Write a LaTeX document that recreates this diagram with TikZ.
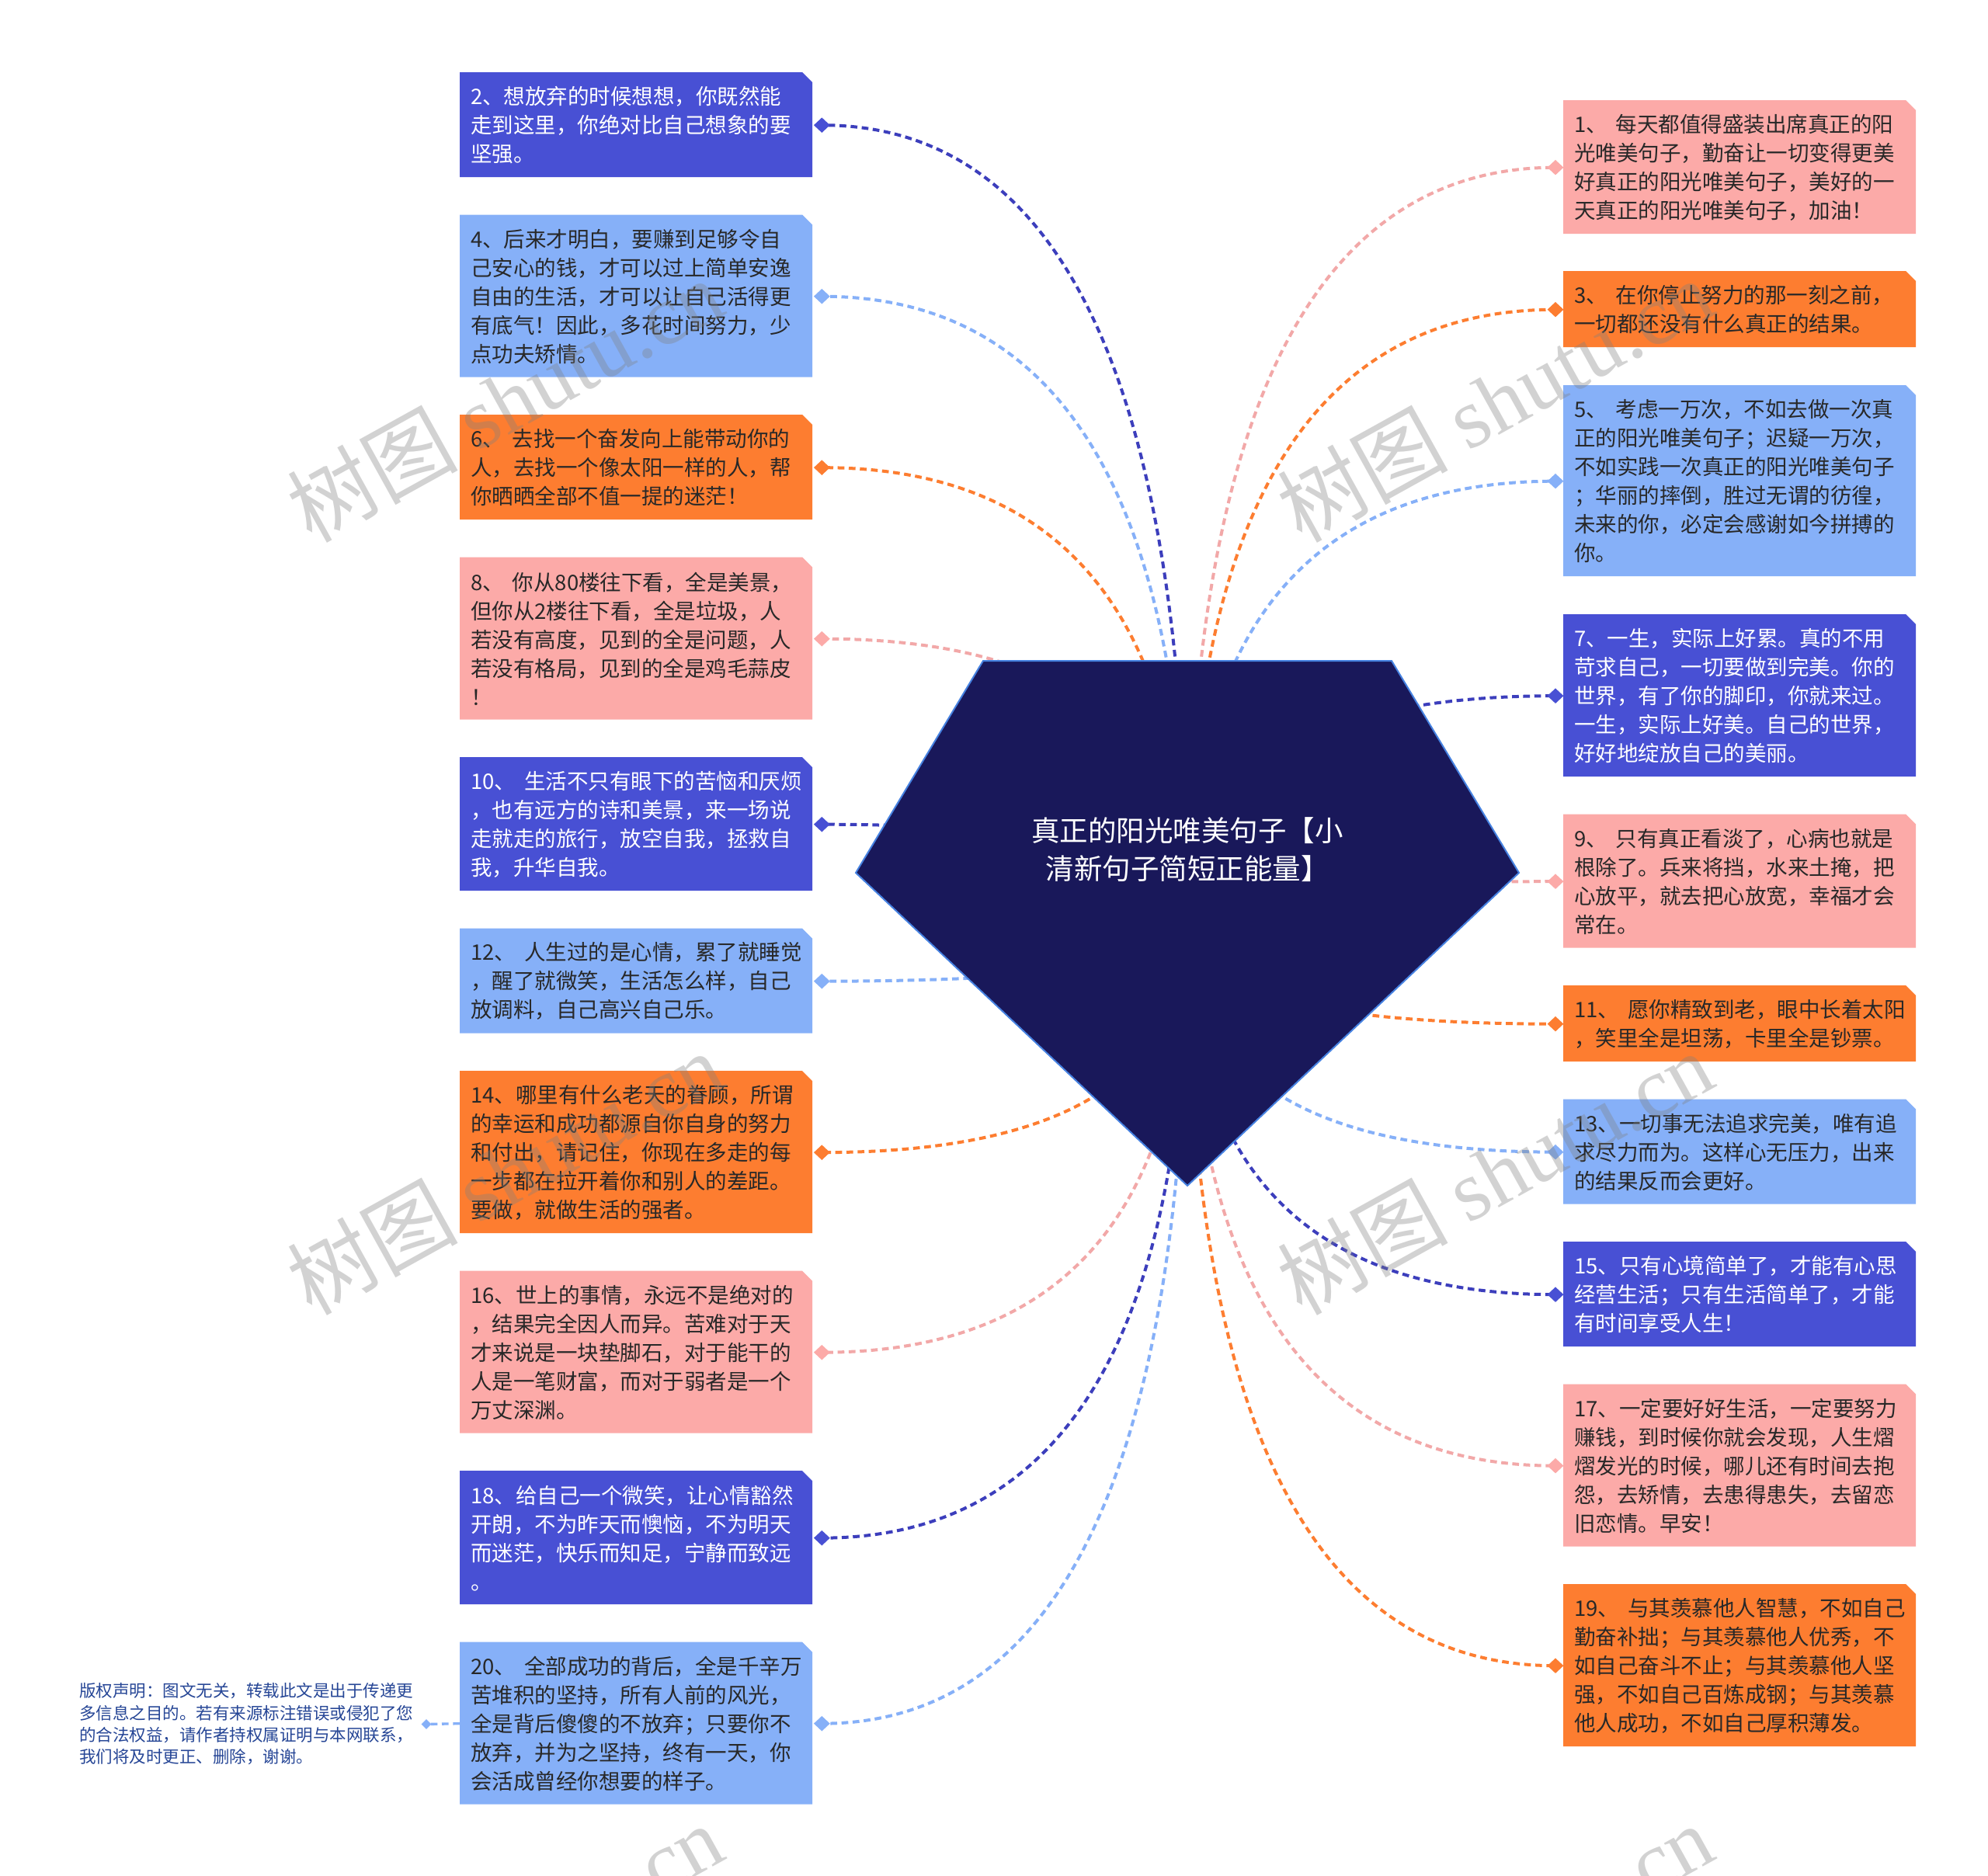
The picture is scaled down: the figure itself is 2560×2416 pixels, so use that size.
\documentclass[tikz,border=0pt]{standalone}
\usepackage{fontspec}
\setmainfont{Noto Sans CJK SC}
\newfontfamily\cjk{Noto Sans CJK SC}
\newfontfamily\wmserif{Liberation Serif}
\usetikzlibrary{shapes.geometric,calc}
\definecolor{cDk}{RGB}{72,80,212}
\definecolor{cDkL}{RGB}{60,62,188}
\definecolor{cLb}{RGB}{134,176,248}
\definecolor{cOr}{RGB}{253,125,48}
\definecolor{cPk}{RGB}{252,170,168}
\definecolor{cPkL}{RGB}{242,168,168}
\definecolor{cNavy}{RGB}{25,24,90}
\definecolor{cEdge}{RGB}{70,130,225}
\definecolor{cTx}{RGB}{40,40,40}
\definecolor{cCopy}{RGB}{38,70,150}
\newcommand\qsp{\hspace*{0.4em}}
\newcommand\qbox[7]{%
  \fill[#5] (#2,#3) -- ++(441,0) -- ++(13,13) -- ++(0,{#4-13}) -- ++(-454,0) -- cycle;
  \node[boxtext, text=#6, minimum height={#4*0.3pt}, anchor=north west] (#1) at (#2,#3) {#7};
}
\newcommand\lconn[3]{%
  \coordinate (#1e) at ([xshift=3.3pt]#1.east);
  \coordinate (#1q) at (hub |- #1e);
  \draw[conn,draw=#2] (hub) .. controls ($(hub)!0.6667!(#1q)$) and ($(#1e)!0.6667!(#1q)$) .. (#1e);
  \node[dmd,fill=#3] (#1d) at (#1e) {};
}
\newcommand\rconn[3]{%
  \coordinate (#1e) at ([xshift=-3pt]#1.west);
  \coordinate (#1q) at (hub |- #1e);
  \draw[conn,draw=#2] (hub) .. controls ($(hub)!0.6667!(#1q)$) and ($(#1e)!0.6667!(#1q)$) .. (#1e);
  \node[dmd,fill=#3] (#1d) at (#1e) {};
}
\begin{document}
\begin{tikzpicture}[x=0.3pt,y=-0.3pt,
  boxtext/.style={rectangle, inner xsep=4.05pt, inner ysep=0pt, minimum width=136.2pt,
    text width=128.1pt, align=left, font=\cjk\fontsize{8.25pt}{11.1pt}\selectfont},
  conn/.style={dash pattern=on 2.6pt off 1.7pt, line width=1.2pt},
  dmd/.style={diamond, inner sep=0pt, minimum width=6.4pt, minimum height=6pt, draw=none},
  wm/.style={text=black!50, text opacity=0.35, font=\fontsize{33pt}{33pt}\selectfont, inner sep=0pt}]
\fill[white] (0,0) rectangle (2560,2416);
\useasboundingbox (0,0) rectangle (2560,2416);

% left column
\qbox{b2}{592}{93}{135}{cDk}{white}{2、想放弃的时候想想，你既然能\\走到这里，你绝对比自己想象的要\\坚强。}
\qbox{b4}{592}{276.5}{209}{cLb}{cTx}{4、后来才明白，要赚到足够令自\\己安心的钱，才可以过上简单安逸\\自由的生活，才可以让自己活得更\\有底气！因此，多花时间努力，少\\点功夫矫情。}
\qbox{b6}{592}{534}{135}{cOr}{cTx}{6、\qsp 去找一个奋发向上能带动你的\\人，去找一个像太阳一样的人，帮\\你晒晒全部不值一提的迷茫！}
\qbox{b8}{592}{717.5}{209}{cPk}{cTx}{8、\qsp 你从80楼往下看，全是美景，\\但你从2楼往下看，全是垃圾，人\\若没有高度，见到的全是问题，人\\若没有格局，见到的全是鸡毛蒜皮\\！}
\qbox{b10}{592}{975}{172}{cDk}{white}{10、\qsp 生活不只有眼下的苦恼和厌烦\\，也有远方的诗和美景，来一场说\\走就走的旅行，放空自我，拯救自\\我，升华自我。}
\qbox{b12}{592}{1195.5}{135}{cLb}{cTx}{12、\qsp 人生过的是心情，累了就睡觉\\，醒了就微笑，生活怎么样，自己\\放调料，自己高兴自己乐。}
\qbox{b14}{592}{1379}{209}{cOr}{cTx}{14、哪里有什么老天的眷顾，所谓\\的幸运和成功都源自你自身的努力\\和付出，请记住，你现在多走的每\\一步都在拉开着你和别人的差距。\\要做，就做生活的强者。}
\qbox{b16}{592}{1636.5}{209}{cPk}{cTx}{16、世上的事情，永远不是绝对的\\，结果完全因人而异。苦难对于天\\才来说是一块垫脚石，对于能干的\\人是一笔财富，而对于弱者是一个\\万丈深渊。}
\qbox{b18}{592}{1894}{172}{cDk}{white}{18、给自己一个微笑，让心情豁然\\开朗，不为昨天而懊恼，不为明天\\而迷茫，快乐而知足，宁静而致远\\。}
\qbox{b20}{592}{2114.5}{209}{cLb}{cTx}{20、\qsp 全部成功的背后，全是千辛万\\苦堆积的坚持，所有人前的风光，\\全是背后傻傻的不放弃；只要你不\\放弃，并为之坚持，终有一天，你\\会活成曾经你想要的样子。}

% right column
\qbox{b1}{2013}{129}{172}{cPk}{cTx}{1、\qsp 每天都值得盛装出席真正的阳\\光唯美句子，勤奋让一切变得更美\\好真正的阳光唯美句子，美好的一\\天真正的阳光唯美句子，加油！}
\qbox{b3}{2013}{349}{98}{cOr}{cTx}{3、\qsp 在你停止努力的那一刻之前，\\一切都还没有什么真正的结果。}
\qbox{b5}{2013}{496}{246}{cLb}{cTx}{5、\qsp 考虑一万次，不如去做一次真\\正的阳光唯美句子；迟疑一万次，\\不如实践一次真正的阳光唯美句子\\；华丽的摔倒，胜过无谓的彷徨，\\未来的你，必定会感谢如今拼搏的\\你。}
\qbox{b7}{2013}{791}{209}{cDk}{white}{7、一生，实际上好累。真的不用\\苛求自己，一切要做到完美。你的\\世界，有了你的脚印，你就来过。\\一生，实际上好美。自己的世界，\\好好地绽放自己的美丽。}
\qbox{b9}{2013}{1048.5}{172}{cPk}{cTx}{9、\qsp 只有真正看淡了，心病也就是\\根除了。兵来将挡，水来土掩，把\\心放平，就去把心放宽，幸福才会\\常在。}
\qbox{b11}{2013}{1269}{98}{cOr}{cTx}{11、\qsp 愿你精致到老，眼中长着太阳\\，笑里全是坦荡，卡里全是钞票。}
\qbox{b13}{2013}{1415.5}{135}{cLb}{cTx}{13、一切事无法追求完美，唯有追\\求尽力而为。这样心无压力，出来\\的结果反而会更好。}
\qbox{b15}{2013}{1599}{135}{cDk}{white}{15、只有心境简单了，才能有心思\\经营生活；只有生活简单了，才能\\有时间享受人生！}
\qbox{b17}{2013}{1782.5}{209}{cPk}{cTx}{17、一定要好好生活，一定要努力\\赚钱，到时候你就会发现，人生熠\\熠发光的时候，哪儿还有时间去抱\\怨，去矫情，去患得患失，去留恋\\旧恋情。早安！}
\qbox{b19}{2013}{2040}{209}{cOr}{cTx}{19、\qsp 与其羡慕他人智慧，不如自己\\勤奋补拙；与其羡慕他人优秀，不\\如自己奋斗不止；与其羡慕他人坚\\强，不如自己百炼成钢；与其羡慕\\他人成功，不如自己厚积薄发。}

% copyright note
\node[anchor=east, inner xsep=4.8pt, inner ysep=0pt, align=left, text=cCopy,
  font=\cjk\fontsize{6.45pt}{8.5pt}\selectfont] (cpr) at (549,2220.5)
  {版权声明：图文无关，转载此文是出于传递更\\多信息之目的。若有来源标注错误或侵犯了您\\的合法权益，请作者持权属证明与本网联系，\\我们将及时更正、删除，谢谢。};
\draw[conn, draw=cLb, line width=1pt] (b20.west) -- (cpr.east);
\node[dmd, fill=cLb, minimum width=4pt, minimum height=4pt] (cprd) at (cpr.east) {};

% connectors
\coordinate (hub) at (1529,1189);
\lconn{b2}{cDkL}{cDk}
\lconn{b4}{cLb}{cLb}
\lconn{b6}{cOr}{cOr}
\lconn{b8}{cPkL}{cPk}
\lconn{b10}{cDkL}{cDk}
\lconn{b12}{cLb}{cLb}
\lconn{b14}{cOr}{cOr}
\lconn{b16}{cPkL}{cPk}
\lconn{b18}{cDkL}{cDk}
\lconn{b20}{cLb}{cLb}
\rconn{b1}{cPkL}{cPk}
\rconn{b3}{cOr}{cOr}
\rconn{b5}{cLb}{cLb}
\rconn{b7}{cDkL}{cDk}
\rconn{b9}{cPkL}{cPk}
\rconn{b11}{cOr}{cOr}
\rconn{b13}{cLb}{cLb}
\rconn{b15}{cDkL}{cDk}
\rconn{b17}{cPkL}{cPk}
\rconn{b19}{cOr}{cOr}

% central pentagon
\filldraw[fill=cNavy, draw=cEdge, line width=0.6pt, line join=miter]
  (1266,851) -- (1792,851) -- (1956,1124) -- (1529,1527) -- (1102,1124) -- cycle;
\node[text=white, align=center, inner sep=0pt, font=\cjk\fontsize{10.95pt}{14.7pt}\selectfont]
  (title) at (1529,1094) {真正的阳光唯美句子【小\\清新句子简短正能量】};

% watermarks
\node[wm, rotate=29] (wm1) at (650,515) {{\cjk 树图} {\wmserif shutu.cn}};
\node[wm, rotate=29] (wm2) at (1925,515) {{\cjk 树图} {\wmserif shutu.cn}};
\node[wm, rotate=29] (wm3) at (650,1510) {{\cjk 树图} {\wmserif shutu.cn}};
\node[wm, rotate=29] (wm4) at (1925,1510) {{\cjk 树图} {\wmserif shutu.cn}};
\node[wm, rotate=29] (wm5) at (650,2505) {{\cjk 树图} {\wmserif shutu.cn}};
\node[wm, rotate=29] (wm6) at (1925,2505) {{\cjk 树图} {\wmserif shutu.cn}};
\end{tikzpicture}
\end{document}
